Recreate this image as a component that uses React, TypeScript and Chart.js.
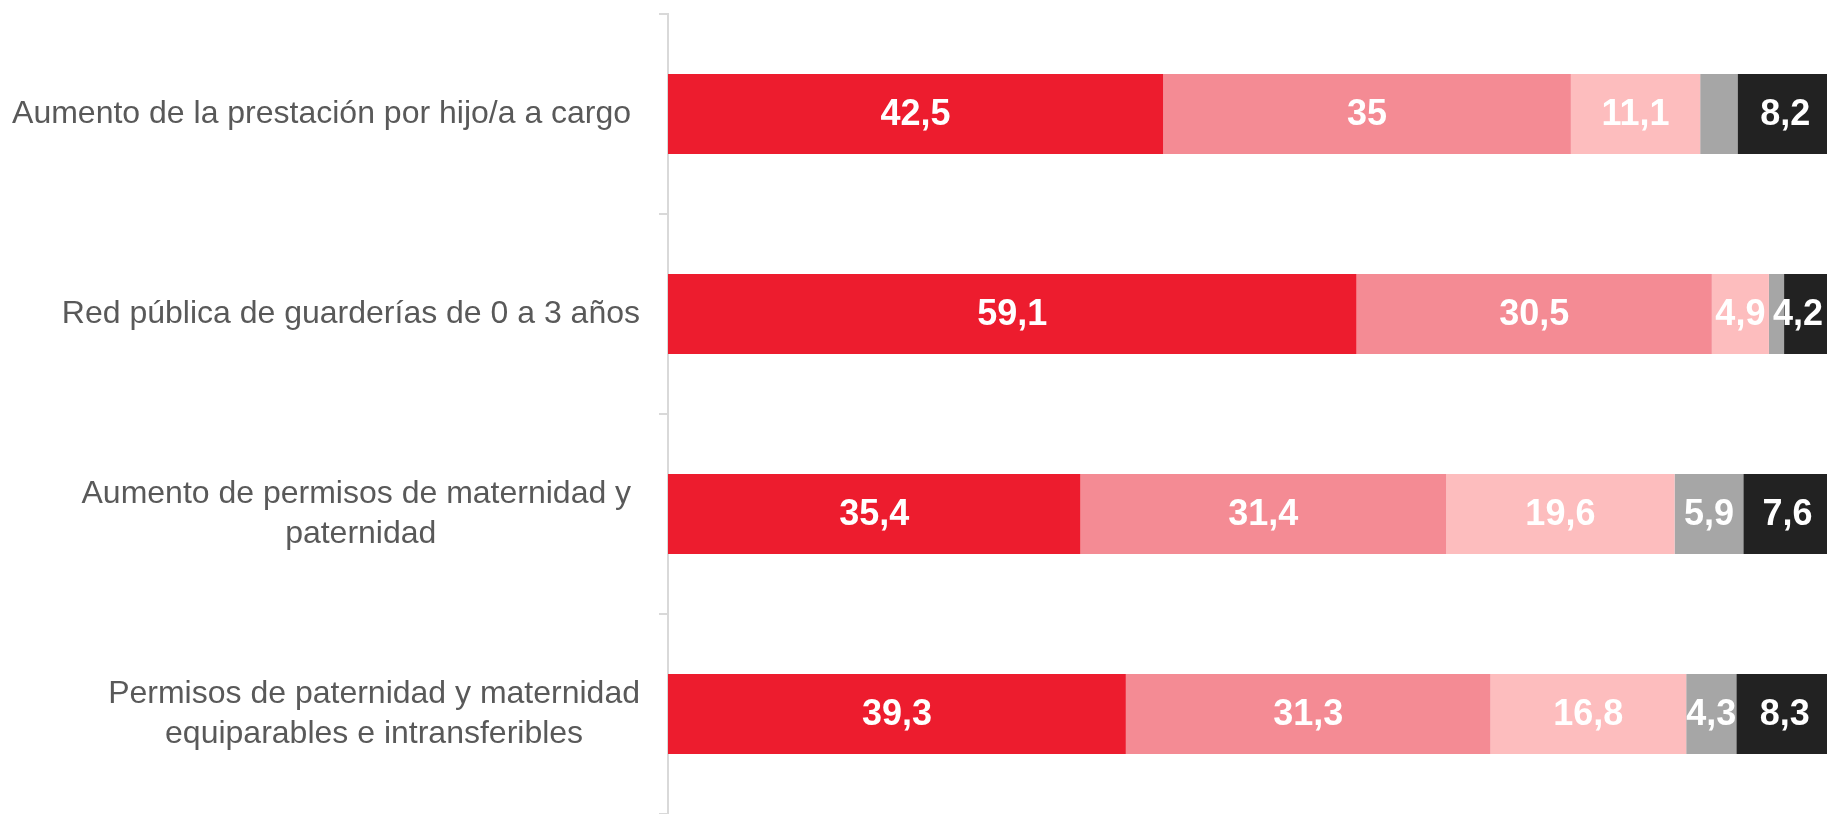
import React, { useEffect, useRef } from "react";
import { Chart, registerables } from "chart.js";

Chart.register(...registerables);

const categories: string[][] = [
  ["Aumento de la prestación por hijo/a a cargo "],
  ["Red pública de guarderías de 0 a 3 años"],
  ["Aumento de permisos de maternidad y ", "paternidad"],
  ["Permisos de paternidad y maternidad", "equiparables e intransferibles"],
];

const seriesNames = ["Serie 1", "Serie 2", "Serie 3", "Serie 4", "Serie 5"];
const serie1 = [42.5, 59.1, 35.4, 39.3];
const serie2 = [35, 30.5, 31.4, 31.3];
const serie3 = [11.1, 4.9, 19.6, 16.8];
const serie4 = [3.2, 1.3, 5.9, 4.3];
const serie5 = [8.2, 4.2, 7.6, 8.3];
const seriesColors = ["#ED1C2E", "#F48B94", "#FDBDBE", "#A6A6A6", "#222222"];

const VISIBLE_W = 1827;
const CANVAS_W = 1833;
const CANVAS_H = 814;
const FONT = '"Liberation Sans", Arial, Helvetica, sans-serif';

const valueLabels = {
  id: "valueLabels",
  afterDatasetsDraw(chart: any) {
    const ctx = chart.ctx;
    ctx.save();
    ctx.font = `bold 36px ${FONT}`;
    ctx.fillStyle = "#FFFFFF";
    ctx.textAlign = "center";
    ctx.textBaseline = "middle";
    chart.data.datasets.forEach((ds: any, di: number) => {
      const meta = chart.getDatasetMeta(di);
      meta.data.forEach((el: any, i: number) => {
        const v = ds.data[i];
        if (v < 4) return;
        const txt = String(v).replace(".", ",");
        const w = ctx.measureText(txt).width;
        let x = (el.x + el.base) / 2;
        x = Math.min(x, VISIBLE_W - w / 2 - 4);
        ctx.fillText(txt, x, el.y + 1);
      });
    });
    ctx.restore();
  },
};

const catLabels = {
  id: "catLabels",
  afterDraw(chart: any) {
    const ctx = chart.ctx;
    const yScale = chart.scales.y;
    const right = 640;
    const lh = 39.6;
    ctx.save();
    ctx.font = `32px ${FONT}`;
    ctx.fillStyle = "#595959";
    ctx.textAlign = "center";
    ctx.textBaseline = "middle";
    categories.forEach((lines, i) => {
      const yc = yScale.getPixelForTick(i);
      const bw = Math.max(...lines.map((l) => ctx.measureText(l).width));
      const cx = right - bw / 2;
      const y0 = yc - ((lines.length - 1) * lh) / 2;
      lines.forEach((l, k) => {
        const lw = ctx.measureText(l).width;
        const tw = ctx.measureText(l.trimEnd()).width;
        // center the visible text within the line's full width (incl. trailing space)
        ctx.fillText(l.trimEnd(), cx - (lw - tw) / 2, y0 + k * lh);
      });
    });
    ctx.restore();
  },
};

export default function App() {
  const ref = useRef<HTMLCanvasElement>(null);
  useEffect(() => {
    document.body.style.margin = "0";
    const allSeries = [serie1, serie2, serie3, serie4, serie5];
    const chart = new Chart(ref.current as HTMLCanvasElement, {
      type: "bar",
      data: {
        labels: categories.map((c) => c.join(" ")),
        datasets: allSeries.map((d, i) => ({
          label: seriesNames[i],
          data: d,
          backgroundColor: seriesColors[i],
          borderWidth: 0,
          categoryPercentage: 0.4,
          barPercentage: 1,
        })),
      },
      options: {
        indexAxis: "y",
        animation: false,
        responsive: false,
        layout: { padding: { left: 659, top: 14, right: 0, bottom: 0 } },
        plugins: {
          legend: { display: false },
          tooltip: { enabled: false },
        },
        scales: {
          x: { stacked: true, min: 0, max: 100, display: false },
          y: {
            stacked: true,
            grid: {
              display: true,
              drawOnChartArea: false,
              drawTicks: true,
              tickLength: 9,
              color: "#D9D9D9",
              lineWidth: 2,
              offset: true,
            },
            border: { display: true, color: "#D9D9D9", width: 2 },
            ticks: { display: false },
          },
        },
      },
      plugins: [valueLabels, catLabels],
    } as any);
    return () => chart.destroy();
  }, []);
  return (
    <div style={{ width: VISIBLE_W, height: CANVAS_H, overflow: "hidden", position: "relative", background: "#fff" }}>
      <canvas ref={ref} width={CANVAS_W} height={CANVAS_H} style={{ display: "block" }} />
    </div>
  );
}
